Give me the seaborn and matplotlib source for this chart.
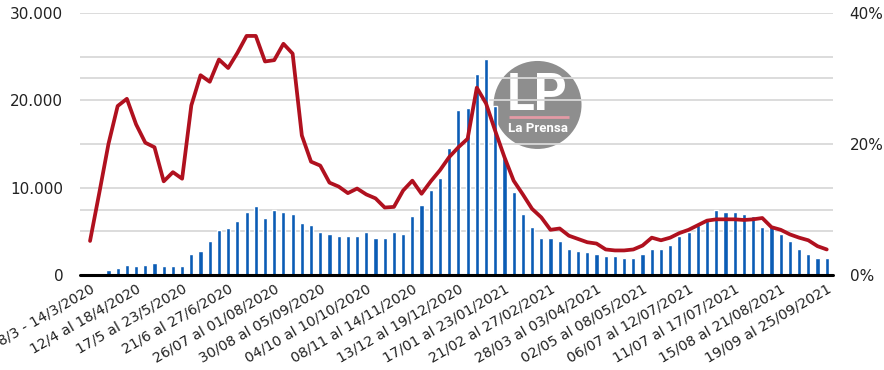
import numpy as np
import matplotlib
matplotlib.use('Agg')
import matplotlib.pyplot as plt
import matplotlib.patches as mpatches
import seaborn as sns

# Weekly confirmed cases (left axis)
cases = [0, 80, 520, 750, 1200, 980, 1200, 1430, 980, 980,
         980, 2350, 2800, 3950, 5100, 5330, 6240, 7160, 7850, 6470,
         7390, 7160, 6930, 6010, 5780, 4870, 4640, 4410, 4410, 4410,
         4870, 4180, 4180, 4870, 4640, 6700, 8070, 9680, 11130, 14490,
         18840, 19070, 22960, 24760, 19300, 13340, 9450, 6930, 5550, 4180,
         4180, 3950, 3030, 2800, 2580, 2350, 2120, 2120, 1890, 1890,
         2350, 3030, 3030, 3490, 4410, 4870, 5780, 6470, 7390, 7160,
         7160, 6930, 6700, 5550, 5780, 4640, 3950, 3030, 2350, 1890,
         1890]

# Weekly positivity % (right axis)
positivity = [5.2, 12.5, 20.0, 25.8, 26.9, 23.0, 20.2, 19.5, 14.3, 15.7,
              14.7, 25.9, 30.5, 29.5, 32.9, 31.6, 33.9, 36.5, 36.5, 32.6,
              32.8, 35.3, 33.8, 21.3, 17.3, 16.7, 14.1, 13.5, 12.5, 13.2,
              12.3, 11.7, 10.3, 10.4, 12.9, 14.4, 12.4, 14.3, 16.0, 18.0,
              19.5, 20.8, 28.6, 26.2, 22.0, 18.0, 14.4, 12.3, 10.1, 8.8,
              6.9, 7.1, 6.0, 5.5, 5.0, 4.8, 3.9, 3.75, 3.75, 3.9,
              4.5, 5.7, 5.3, 5.7, 6.4, 6.9, 7.6, 8.3, 8.5, 8.5,
              8.5, 8.4, 8.5, 8.7, 7.3, 6.9, 6.2, 5.7, 5.3, 4.4,
              3.9]

# one label every 5 weeks
week_labels = ['8/3 - 14/3/2020', '12/4 al 18/4/2020', '17/5 al 23/5/2020',
               '21/6 al 27/6/2020', '26/07 al 01/08/2020', '30/08 al 05/09/2020',
               '04/10 al 10/10/2020', '08/11 al 14/11/2020', '13/12 al 19/12/2020',
               '17/01 al 23/01/2021', '21/02 al 27/02/2021', '28/03 al 03/04/2021',
               '02/05 al 08/05/2021', '06/07 al 12/07/2021', '11/07 al 17/07/2021',
               '15/08 al 21/08/2021', '19/09 al 25/09/2021']

left_ticks = [0, 10000, 20000, 30000]
left_labels = ['0', '10.000', '20.000', '30.000']
right_ticks = [0, 20, 40]
right_labels = ['0%', '20%', '40%']

BLUE = '#0a5cb5'
RED = '#b0111f'
GRID = '#d9d9d9'
TXT = '#222222'

sns.set_style('white')
plt.rcParams['font.family'] = ['DejaVu Sans']

weeks = np.arange(len(cases))

fig = plt.figure(figsize=(8.84, 3.70), dpi=100)
ax = fig.add_axes([80/884, 1 - 275/370, 753/884, 262/370])

sns.barplot(x=weeks, y=cases, color=BLUE, saturation=1, width=0.45, ax=ax, zorder=2)

ax2 = ax.twinx()
sns.lineplot(x=weeks, y=positivity, color=RED, lw=2.7, ax=ax2)

ax.set_xlim(-1.09, 80.68)
ax.set_ylim(0, 30000)
ax2.set_ylim(0, 40)

# grid: every 5.000 cases plus the 10% / 30% levels of the right axis
ax.set_yticks(left_ticks)
ax.set_yticklabels(left_labels)
ax.set_yticks([5000, 7500, 15000, 22500, 25000], minor=True)
ax.grid(axis='y', which='both', color=GRID, lw=1.3)
ax.set_axisbelow(True)
ax.tick_params(axis='y', which='both', length=0, pad=12, labelsize=11, labelcolor=TXT)

ax2.set_yticks(right_ticks)
ax2.set_yticklabels(right_labels)
ax2.tick_params(axis='y', length=0, pad=12, labelsize=11, labelcolor=TXT)
ax2.grid(False)

ax.set_xticks(weeks[::5])
ax.set_xticklabels(week_labels, rotation=30, ha='right', va='top',
                   rotation_mode='anchor', fontsize=10.2, color=TXT)
ax.tick_params(axis='x', length=0, pad=5)
ax.set_xlabel('')
ax.set_ylabel('')
ax2.set_ylabel('')

for a in (ax, ax2):
    for s in a.spines.values():
        s.set_visible(False)
ax.axhline(0, color='black', lw=2.2, zorder=3, clip_on=False)

# La Prensa logo
ax.add_patch(mpatches.Ellipse((0.6076, 0.649), 88/753, 88/262, transform=ax.transAxes,
                              color='#8e8e8e', zorder=0.2, lw=0))
ax.text(0.6076, 0.685, 'LP', transform=ax.transAxes, ha='center', va='center',
        color='white', fontsize=37, fontweight='bold', family='Roboto', zorder=0.3)
ax.plot([0.5697, 0.6494], [0.603, 0.603], transform=ax.transAxes,
        color='#e39aa5', lw=2, zorder=0.3, solid_capstyle='butt')
ax.text(0.6076, 0.560, 'La Prensa', transform=ax.transAxes, ha='center', va='center',
        color='white', fontsize=9.5, fontweight='bold', family='Roboto', zorder=0.3)

fig.savefig('out.png', dpi=100)
